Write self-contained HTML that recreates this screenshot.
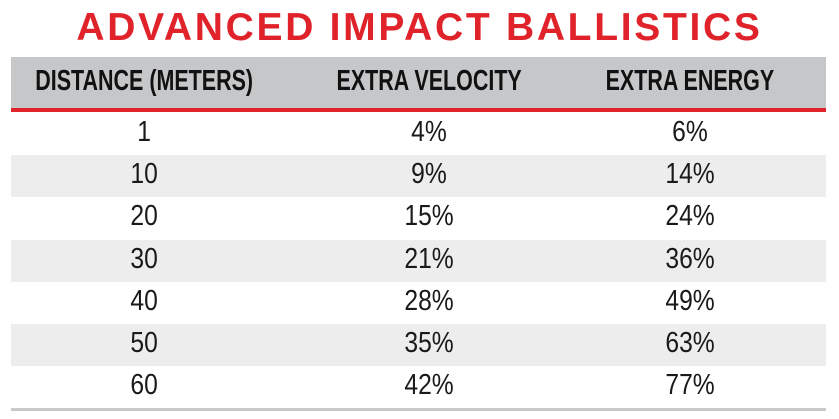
<!DOCTYPE html>
<html><head><style>
body{margin:0;width:839px;height:419px;background:#fff;position:relative;overflow:hidden;font-family:"Liberation Sans",sans-serif}
.t{position:absolute;left:0;width:839px;top:6px;text-align:center;color:#e0222b;font-weight:bold;font-size:39px;letter-spacing:2.7px}
.hd{position:absolute;left:11px;width:815px;top:57px;height:51px;background:#c6c7c9}
.rl{position:absolute;left:11px;width:815px;top:108px;height:4px;background:#e0222b}
.bl{position:absolute;left:11px;width:815px;top:408px;height:3px;background:#c9c9c9}
.g{position:absolute;left:11px;width:815px;height:42px;background:#ededed}
.c{position:absolute;width:400px;margin-left:-200px;text-align:center;color:#1a1a1a}
.c span{display:inline-block}
.h{font-weight:bold;font-size:29px;top:65px;color:#111}
.h span{transform:scaleX(0.74)}
.r{font-size:29px}
.r span{transform:scaleX(0.85)}
</style></head><body>
<div class="t">ADVANCED IMPACT BALLISTICS</div>
<div class="hd"></div><div class="rl"></div>
<div class="g" style="top:155px"></div>
<div class="g" style="top:240px"></div>
<div class="g" style="top:324px"></div>
<div class="bl"></div>
<div class="c h" style="left:144px"><span>DISTANCE (METERS)</span></div>
<div class="c h" style="left:429px"><span>EXTRA VELOCITY</span></div>
<div class="c h" style="left:690px"><span>EXTRA ENERGY</span></div>
<div class="c r" style="left:144px;top:116px"><span>1</span></div><div class="c r" style="left:429px;top:116px"><span>4%</span></div><div class="c r" style="left:690px;top:116px"><span>6%</span></div>
<div class="c r" style="left:144px;top:158px"><span>10</span></div><div class="c r" style="left:429px;top:158px"><span>9%</span></div><div class="c r" style="left:690px;top:158px"><span>14%</span></div>
<div class="c r" style="left:144px;top:200px"><span>20</span></div><div class="c r" style="left:429px;top:200px"><span>15%</span></div><div class="c r" style="left:690px;top:200px"><span>24%</span></div>
<div class="c r" style="left:144px;top:243px"><span>30</span></div><div class="c r" style="left:429px;top:243px"><span>21%</span></div><div class="c r" style="left:690px;top:243px"><span>36%</span></div>
<div class="c r" style="left:144px;top:285px"><span>40</span></div><div class="c r" style="left:429px;top:285px"><span>28%</span></div><div class="c r" style="left:690px;top:285px"><span>49%</span></div>
<div class="c r" style="left:144px;top:327px"><span>50</span></div><div class="c r" style="left:429px;top:327px"><span>35%</span></div><div class="c r" style="left:690px;top:327px"><span>63%</span></div>
<div class="c r" style="left:144px;top:369px"><span>60</span></div><div class="c r" style="left:429px;top:369px"><span>42%</span></div><div class="c r" style="left:690px;top:369px"><span>77%</span></div>
</body></html>
